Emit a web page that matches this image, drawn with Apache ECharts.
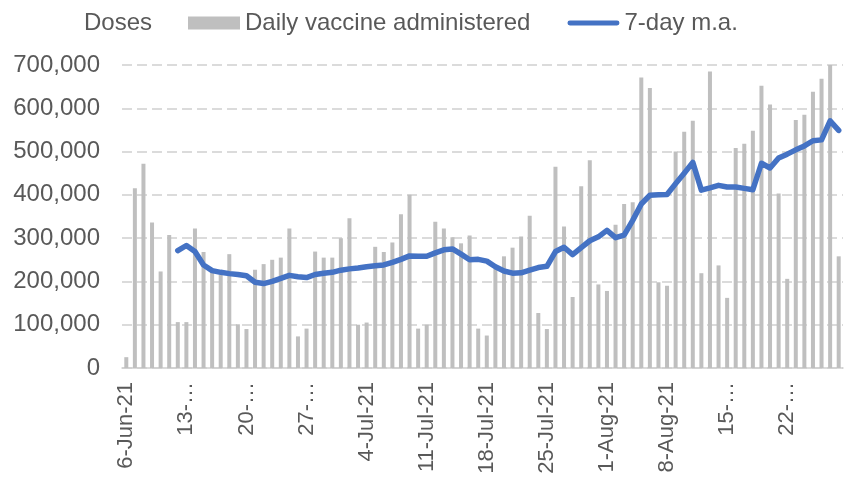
<!DOCTYPE html>
<html>
<head>
<meta charset="utf-8">
<script src="https://cdn.jsdelivr.net/npm/echarts@6/dist/echarts.min.js"></script>
<style>
  html, body { margin: 0; padding: 0; background: #fff; }
  #myChart { width: 847px; height: 483px; }
</style>
</head>
<body>
<div id="myChart"></div>
<script>
// 84 days, 6-Jun-21 .. 28-Aug-21
var startDate = new Date(2021, 5, 6);
var dayCount = 84;
var monthNames = ['Jan','Feb','Mar','Apr','May','Jun','Jul','Aug','Sep','Oct','Nov','Dec'];
var dates = [];
for (var i = 0; i < dayCount; i++) {
  var d = new Date(startDate.getTime());
  d.setDate(startDate.getDate() + i);
  dates.push(d.getDate() + '-' + monthNames[d.getMonth()] + '-21');
}

// labels shown every 7 days (Excel cut some of them)
var tickLabels = ['6-Jun-21', '13-…', '20-…', '27-…', '4-Jul-21', '11-Jul-21',
  '18-Jul-21', '25-Jul-21', '1-Aug-21', '8-Aug-21', '15-…', '22-…'];

var dailyDoses = [
  25000, 415000, 472000, 336000, 223000, 307000, 106000, 106000, 322000, 268000,
  225000, 215000, 263000, 101000, 90000, 227000, 240000, 250000, 255000, 322000,
  73000, 91000, 269000, 255000, 255000, 300000, 346000, 100000, 105000, 280000,
  268000, 290000, 355000, 400000, 91000, 100000, 338000, 322000, 302000, 288000,
  306000, 91000, 75000, 230000, 258000, 278000, 304000, 352000, 127000, 90000,
  465000, 327000, 164000, 420000, 480000, 193000, 178000, 331000, 379000, 383000,
  671000, 647000, 198000, 190000, 500000, 546000, 571000, 219000, 685000, 237000,
  162000, 508000, 518000, 548000, 652000, 609000, 403000, 206000, 573000, 585000,
  638000, 668000, 700000, 258000
];

var movingAvg = [
  null, null, null, null, null, null,
  271000, 283000, 269000, 238000, 225000, 221000, 218000, 216000, 213000, 198000,
  195000, 200000, 207000, 214000, 211000, 209000, 216000, 219000, 221000, 226000,
  229000, 231000, 234000, 236000, 238000, 244000, 251000, 259000, 258000, 258000,
  266000, 273000, 275000, 263000, 250000, 251000, 247000, 234000, 224000, 219000,
  220000, 226000, 232000, 235000, 269000, 279000, 262000, 278000, 294000, 303000,
  318000, 301000, 307000, 341000, 379000, 399000, 400000, 401000, 426000, 450000,
  475000, 411000, 416000, 422000, 418000, 418000, 415000, 412000, 473000, 462000,
  485000, 494000, 504000, 513000, 525000, 527000, 571000, 549000
];

var textColor = '#595959';
var fontName = 'Liberation Sans';

var myChart = echarts.init(document.getElementById('myChart'));
myChart.setOption({
  animation: false,
  title: {
    text: 'Doses',
    left: 79,
    top: 6,
    textStyle: { color: textColor, fontSize: 24, fontWeight: 'normal', fontFamily: fontName }
  },
  legend: {
    left: 183,
    top: 6,
    itemWidth: 52,
    itemHeight: 13,
    itemGap: 37,
    textStyle: { color: textColor, fontSize: 24, fontFamily: fontName },
    data: [
      { name: 'Daily vaccine administered', icon: 'rect' },
      { name: '7-day m.a.', icon: 'path://M2,0 L50,0 A2.5,2.5 0 0 1 50,5 L2,5 A2.5,2.5 0 0 1 2,0 Z' }
    ]
  },
  grid: { left: 122, right: 4, top: 65, bottom: 115 },
  xAxis: {
    type: 'category',
    data: dates,
    boundaryGap: true,
    axisLine: { lineStyle: { color: '#d0d0d0', width: 1.5 } },
    axisTick: { interval: 6, length: 6, lineStyle: { color: '#d0d0d0' } },
    axisLabel: {
      interval: 6,
      rotate: 90,
      margin: 14,
      color: textColor,
      fontSize: 22,
      fontFamily: fontName,
      formatter: function (value, index) {
        return tickLabels[Math.round(index / 7)];
      }
    }
  },
  yAxis: {
    type: 'value',
    min: 0,
    max: 700000,
    interval: 100000,
    axisLine: { show: false },
    axisTick: { show: false },
    axisLabel: {
      margin: 22,
      color: textColor,
      fontSize: 24,
      fontFamily: fontName,
      formatter: function (v) { return v.toLocaleString('en-US'); }
    },
    splitLine: { lineStyle: { color: '#cfcfcf', width: 1.5, type: [10, 5] } }
  },
  series: [
    {
      name: 'Daily vaccine administered',
      type: 'bar',
      data: dailyDoses,
      barWidth: 4,
      itemStyle: { color: '#bfbfbf' }
    },
    {
      name: '7-day m.a.',
      type: 'line',
      data: movingAvg,
      symbol: 'none',
      connectNulls: false,
      lineStyle: { color: '#4472c4', width: 5.5, join: 'round', cap: 'round' },
      itemStyle: { color: '#4472c4' }
    }
  ]
});
</script>
</body>
</html>
